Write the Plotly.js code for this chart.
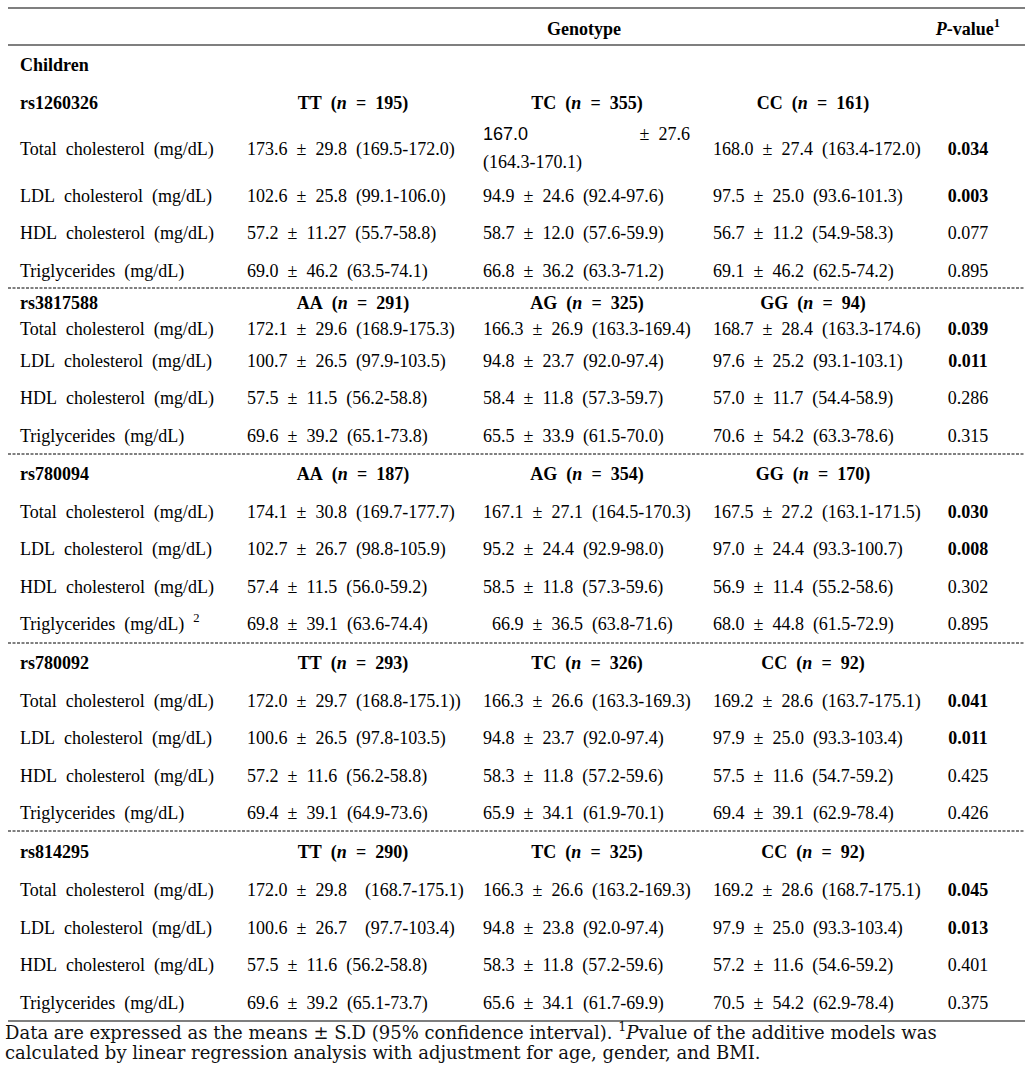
<!DOCTYPE html>
<html>
<head>
<meta charset="utf-8">
<script src="https://cdn.plot.ly/plotly-3.0.1.min.js"></script>
<style>
  html, body { margin: 0; padding: 0; background: #ffffff; }
  #chart { width: 1035px; height: 1078px; }
</style>
</head>
<body>
<div id="chart"></div>
<script>
// ---------------- DATA ----------------
const sectionLabel = 'Children';
const headerGenotype = 'Genotype';
const headerP = 'P-value';
const snps = ['rs1260326', 'rs3817588', 'rs780094', 'rs780092', 'rs814295'];
const genotypes = [
  ['TT', 'TC', 'CC'],
  ['AA', 'AG', 'GG'],
  ['AA', 'AG', 'GG'],
  ['TT', 'TC', 'CC'],
  ['TT', 'TC', 'CC']
];
const genotypeN = [
  [195, 355, 161],
  [291, 325, 94],
  [187, 354, 170],
  [293, 326, 92],
  [290, 325, 92]
];
const traits = ['Total cholesterol (mg/dL)', 'LDL cholesterol (mg/dL)', 'HDL cholesterol (mg/dL)', 'Triglycerides (mg/dL)'];
// footnote marks on trait labels, one per group x trait
const traitNotes = [
  ['', '', '', ''],
  ['', '', '', ''],
  ['', '', '', '2'],
  ['', '', '', ''],
  ['', '', '', '']
];
// mean ± SD (95% CI) per genotype column
const genotype1Values = [
  ['173.6 ± 29.8 (169.5-172.0)', '102.6 ± 25.8 (99.1-106.0)', '57.2 ± 11.27 (55.7-58.8)', '69.0 ± 46.2 (63.5-74.1)'],
  ['172.1 ± 29.6 (168.9-175.3)', '100.7 ± 26.5 (97.9-103.5)', '57.5 ± 11.5 (56.2-58.8)', '69.6 ± 39.2 (65.1-73.8)'],
  ['174.1 ± 30.8 (169.7-177.7)', '102.7 ± 26.7 (98.8-105.9)', '57.4 ± 11.5 (56.0-59.2)', '69.8 ± 39.1 (63.6-74.4)'],
  ['172.0 ± 29.7 (168.8-175.1))', '100.6 ± 26.5 (97.8-103.5)', '57.2 ± 11.6 (56.2-58.8)', '69.4 ± 39.1 (64.9-73.6)'],
  ['172.0 ± 29.8  (168.7-175.1)', '100.6 ± 26.7  (97.7-103.4)', '57.5 ± 11.6 (56.2-58.8)', '69.6 ± 39.2 (65.1-73.7)']
];
const genotype2Values = [
  ['167.0 ± 27.6 (164.3-170.1)', '94.9 ± 24.6 (92.4-97.6)', '58.7 ± 12.0 (57.6-59.9)', '66.8 ± 36.2 (63.3-71.2)'],
  ['166.3 ± 26.9 (163.3-169.4)', '94.8 ± 23.7 (92.0-97.4)', '58.4 ± 11.8 (57.3-59.7)', '65.5 ± 33.9 (61.5-70.0)'],
  ['167.1 ± 27.1 (164.5-170.3)', '95.2 ± 24.4 (92.9-98.0)', '58.5 ± 11.8 (57.3-59.6)', ' 66.9 ± 36.5 (63.8-71.6)'],
  ['166.3 ± 26.6 (163.3-169.3)', '94.8 ± 23.7 (92.0-97.4)', '58.3 ± 11.8 (57.2-59.6)', '65.9 ± 34.1 (61.9-70.1)'],
  ['166.3 ± 26.6 (163.2-169.3)', '94.8 ± 23.8 (92.0-97.4)', '58.3 ± 11.8 (57.2-59.6)', '65.6 ± 34.1 (61.7-69.9)']
];
const genotype3Values = [
  ['168.0 ± 27.4 (163.4-172.0)', '97.5 ± 25.0 (93.6-101.3)', '56.7 ± 11.2 (54.9-58.3)', '69.1 ± 46.2 (62.5-74.2)'],
  ['168.7 ± 28.4 (163.3-174.6)', '97.6 ± 25.2 (93.1-103.1)', '57.0 ± 11.7 (54.4-58.9)', '70.6 ± 54.2 (63.3-78.6)'],
  ['167.5 ± 27.2 (163.1-171.5)', '97.0 ± 24.4 (93.3-100.7)', '56.9 ± 11.4 (55.2-58.6)', '68.0 ± 44.8 (61.5-72.9)'],
  ['169.2 ± 28.6 (163.7-175.1)', '97.9 ± 25.0 (93.3-103.4)', '57.5 ± 11.6 (54.7-59.2)', '69.4 ± 39.1 (62.9-78.4)'],
  ['169.2 ± 28.6 (168.7-175.1)', '97.9 ± 25.0 (93.3-103.4)', '57.2 ± 11.6 (54.6-59.2)', '70.5 ± 54.2 (62.9-78.4)']
];
const pValues = [
  ['0.034', '0.003', '0.077', '0.895'],
  ['0.039', '0.011', '0.286', '0.315'],
  ['0.030', '0.008', '0.302', '0.895'],
  ['0.041', '0.011', '0.425', '0.426'],
  ['0.045', '0.013', '0.401', '0.375']
];
const footnoteLines = [
  'Data are expressed as the means ± S.D (95% confidence interval). <sup>1</sup><i>P</i>value of the additive models was',
  'calculated by linear regression analysis with adjustment for age, gender, and BMI.'
];

// ---------------- LAYOUT / STYLE ----------------
const W = 1035, H = 1078;
const SERIF = '"Liberation Serif", "Times New Roman", serif';
const SANS = '"Liberation Sans", Arial, sans-serif';
const NOTE_FONT = '"DejaVu Serif", serif';
const FS = 18;
const NOTE_FS = 18;
const DY = 1.5; // baseline tweak for all table text
const COLX = { label: 20, v: [247, 483, 713], h: [353, 587, 813], p: 968, genotype: 584 };
const HEADER_Y = 29, SECTION_Y = 65;
const GROUP_Y = [
  [103, 149, 196, 233, 271],
  [303, 329, 361, 398, 436],
  [474, 512, 549, 587, 624],
  [663, 701, 738, 776, 813],
  [852, 890, 928, 965, 1003]
];
const SOLID_Y = [8, 45, 1021];
const DASH_Y = [288, 454, 643, 831];
const RULE_X = [8, 1025];
const NOTE_X = 5;
const NOTE_Y = [1034, 1054];
// cell that wraps onto two lines in the original: group 0, trait 0, genotype column 2
const WRAP = { g: 0, r: 0, c: 1, rightX: 690, dy1: -15, dy2: 13 };

const sp = s => s.replace(/ /g, '\u00A0\u00A0');

// collect text items: {x, y, t, align, font, size}
const items = [];
function add(x, y, t, align, font, size, color, noShift) {
  items.push({ x, y: y + (noShift ? 0 : DY), t, align, font: font || SERIF, size: size || FS, color: color || '#000000' });
}

add(COLX.genotype, HEADER_Y, '<b>' + headerGenotype + '</b>', 'center');
add(COLX.p, HEADER_Y, '<b><i>P</i>-value<sup>1</sup></b>', 'center');
add(COLX.label, SECTION_Y, '<b>' + sectionLabel + '</b>', 'left');

const valueCols = [genotype1Values, genotype2Values, genotype3Values];
snps.forEach((snp, g) => {
  const ys = GROUP_Y[g];
  add(COLX.label, ys[0], '<b>' + snp + '</b>', 'left');
  genotypes[g].forEach((gt, c) => {
    add(COLX.h[c], ys[0], '<b>' + gt + sp(' (') + '<i>n</i>' + sp(' = ') + genotypeN[g][c] + ')</b>', 'center');
  });
  traits.forEach((tr, r) => {
    const y = ys[r + 1];
    const note = traitNotes[g][r] ? '\u00A0\u00A0<sup>' + traitNotes[g][r] + '</sup>' : '';
    add(COLX.label, y, sp(tr) + note, 'left');
    valueCols.forEach((col, c) => {
      const s = col[g][r];
      if (g === WRAP.g && r === WRAP.r && c === WRAP.c) {
        const m = s.match(/^(\S+)\s+(±\s+\S+)\s+(.*)$/);
        add(COLX.v[c], y + WRAP.dy1, m[1], 'left', SANS);
        add(WRAP.rightX, y + WRAP.dy1, sp(m[2]), 'right');
        add(COLX.v[c], y + WRAP.dy2, m[3], 'left');
      } else {
        add(COLX.v[c], y, sp(s), 'left');
      }
    });
    const pv = pValues[g][r];
    add(COLX.p, y, parseFloat(pv) < 0.05 ? '<b>' + pv + '</b>' : pv, 'center');
  });
});
footnoteLines.forEach((line, i) => add(NOTE_X, NOTE_Y[i], line, 'left', NOTE_FONT, NOTE_FS, '#111111', true));

// group items into scatter text traces by alignment
const posMap = { left: 'middle right', center: 'middle center', right: 'middle left' };
const traces = ['left', 'center', 'right'].map(al => {
  const sel = items.filter(it => it.align === al);
  return {
    type: 'scatter',
    mode: 'text',
    x: sel.map(it => it.x),
    y: sel.map(it => it.y),
    text: sel.map(it => it.t),
    textposition: posMap[al],
    textfont: {
      family: sel.map(it => it.font),
      size: sel.map(it => it.size),
      color: sel.map(it => it.color)
    },
    hoverinfo: 'skip',
    showlegend: false,
    cliponaxis: false
  };
});

const shapes = [];
SOLID_Y.forEach(y => shapes.push({
  type: 'line', xref: 'x', yref: 'y', x0: RULE_X[0], x1: RULE_X[1], y0: y, y1: y,
  line: { color: '#000000', width: 1.2 }
}));
DASH_Y.forEach(y => shapes.push({
  type: 'line', xref: 'x', yref: 'y', x0: RULE_X[0], x1: RULE_X[1], y0: y, y1: y,
  line: { color: '#000000', width: 1, dash: '3px,1.5px' }
}));

const layout = {
  width: W, height: H,
  margin: { l: 0, r: 0, t: 0, b: 0, pad: 0 },
  paper_bgcolor: '#ffffff', plot_bgcolor: '#ffffff',
  xaxis: { range: [0, W], visible: false, fixedrange: true },
  yaxis: { range: [H, 0], visible: false, fixedrange: true },
  shapes: shapes,
  showlegend: false
};

Plotly.newPlot('chart', traces, layout, { staticPlot: true, displayModeBar: false });
</script>
</body>
</html>
